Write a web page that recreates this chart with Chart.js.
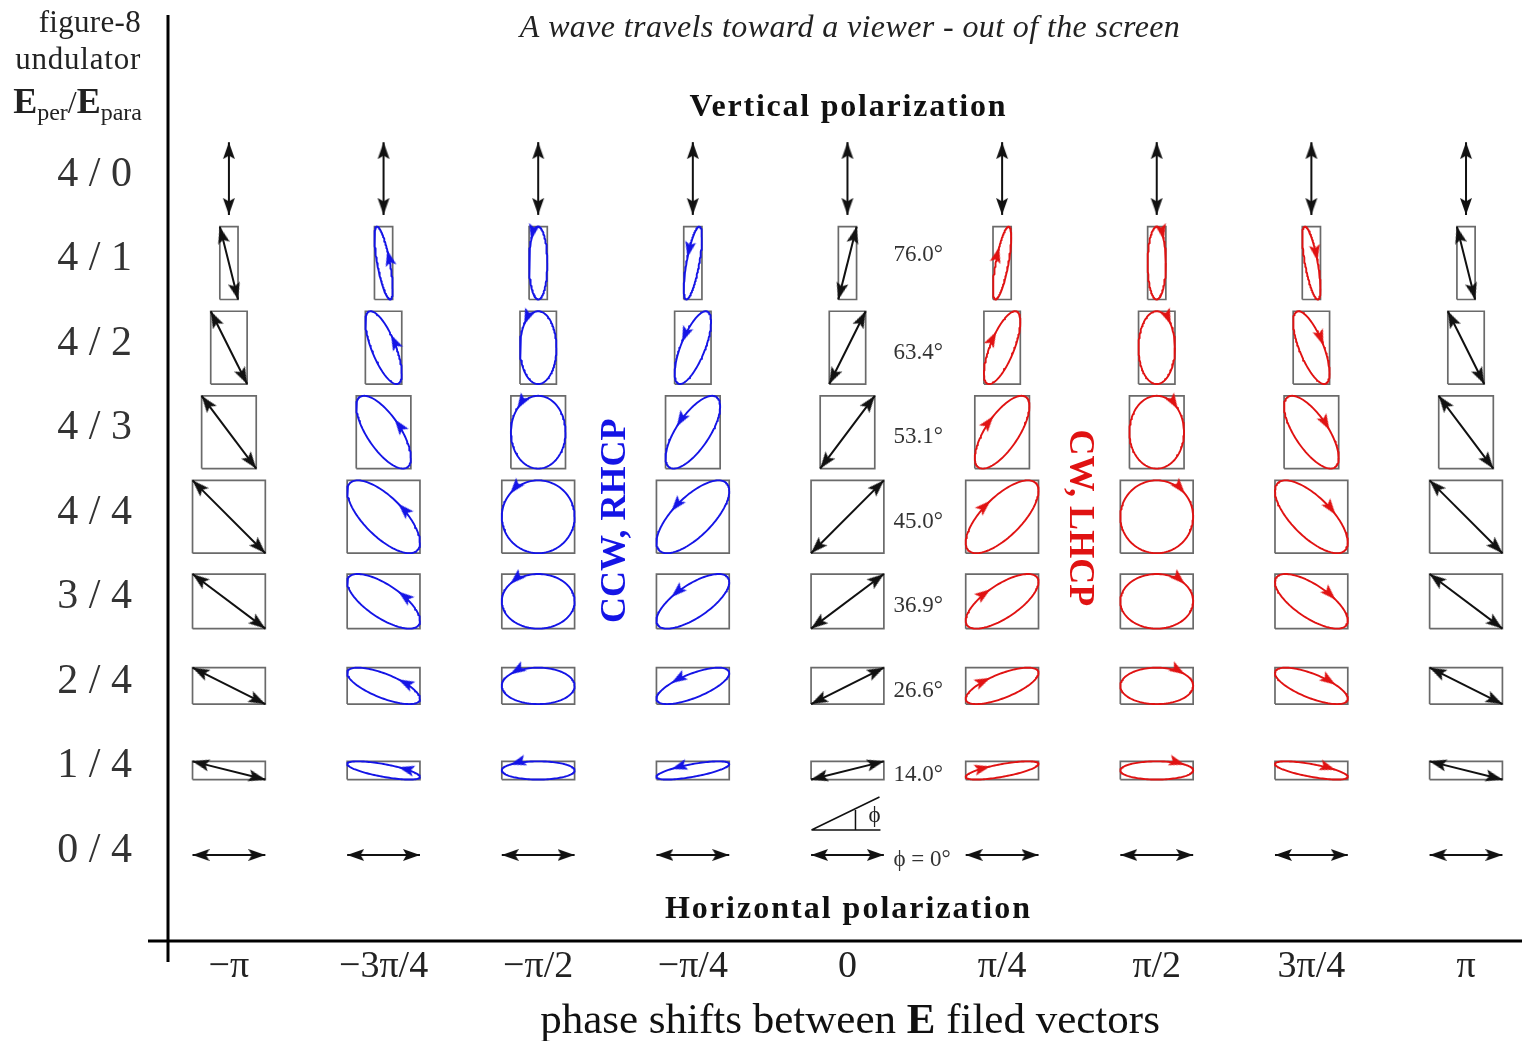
<!DOCTYPE html>
<html>
<head>
<meta charset="utf-8">
<title>Polarization states of a figure-8 undulator</title>
<script src="https://cdn.jsdelivr.net/npm/chart.js@4.4.1/dist/chart.umd.min.js"></script>
<style>
  html, body { margin: 0; padding: 0; background: #fff; }
  #wrap { width: 1522px; height: 1041px; }
</style>
</head>
<body>
<div id="wrap"><canvas id="myChart" width="1522" height="1041"></canvas></div>
<script>
// phase shift between the two E components, in steps of pi/4
const phaseSteps = [-4, -3, -2, -1, 0, 1, 2, 3, 4];
const phaseLabels = ["−π", "−3π/4", "−π/2", "−π/4", "0", "π/4", "π/2", "3π/4", "π"];

// amplitudes per row, top row first
const ePer = [4, 4, 4, 4, 4, 3, 2, 1, 0];
const ePara = [0, 1, 2, 3, 4, 4, 4, 4, 4];
const rowLabels = ["4 / 0", "4 / 1", "4 / 2", "4 / 3", "4 / 4", "3 / 4", "2 / 4", "1 / 4", "0 / 4"];
const angleLabels = ["", "76.0°", "63.4°", "53.1°", "45.0°", "36.9°", "26.6°", "14.0°", "ϕ = 0°"];

// where the single arrowhead sits on each ellipse (curve parameter t)
const arrowAt = [0, 1.15, 2.45, 2.2, 0, -1.9, -0.69, -0.85, 0];

const ctx = document.getElementById("myChart").getContext("2d");

const X_MIN = -4.394, X_MAX = 4.362;
const Y_MIN = -1.017, Y_MAX = 9.934;
const AREA_W = 1354, AREA_H = 926;
const AMP_PX = 9.1; // pixels per amplitude unit
const ax = (AMP_PX * (X_MAX - X_MIN)) / AREA_W;
const ay = (AMP_PX * (Y_MAX - Y_MIN)) / AREA_H;

const BLUE = "#1414e6";
const RED = "#e01212";
const BLACK = "#111111";
const BOX = "#6a6a6a";
const SERIF = "'Liberation Serif', 'Times New Roman', serif";

const colorFor = (s) => (s === 0 || Math.abs(s) === 4 ? BLACK : s < 0 ? BLUE : RED);

// arrowhead image, tip at the image centre, pointing up
const makeHead = (color, len, hw) => {
  const c = document.createElement("canvas");
  c.width = Math.ceil(hw) * 2 + 2;
  c.height = len * 2;
  const g = c.getContext("2d");
  const cx = c.width / 2;
  g.fillStyle = color;
  g.beginPath();
  g.moveTo(cx, len);
  g.lineTo(cx + hw, 2 * len);
  g.lineTo(cx, 2 * len - len * 0.2);
  g.lineTo(cx - hw, 2 * len);
  g.closePath();
  g.fill();
  return c;
};
const heads = {
  [BLACK]: makeHead(BLACK, 17, 6),
  [BLUE]: makeHead(BLUE, 16, 5.5),
  [RED]: makeHead(RED, 16, 5.5),
};
const deg = (vx, vy) => (Math.atan2(vx, vy) * 180) / Math.PI;

const boxes = [];
const curves = [];
const arrows = [];

ePer.forEach((B, r) => {
  const A = ePara[r];
  const yc = 8 - r;
  phaseSteps.forEach((s, c) => {
    const phi = (s * Math.PI) / 4;
    const linear = A === 0 || B === 0 || s % 4 === 0;
    const color = linear ? BLACK : colorFor(s);
    const pt = (px, py) => ({ x: s + px * ax, y: yc + py * ay });

    if (A > 0 && B > 0) {
      boxes.push({
        data: [pt(-A, -B), pt(A, -B), pt(A, B), pt(-A, B), pt(-A, -B)],
        borderColor: BOX,
        borderWidth: 1.7,
        showLine: true,
        pointRadius: 0,
        order: 3,
      });
    }

    if (linear) {
      const sg = Math.cos(phi) >= 0 ? 1 : -1;
      curves.push({
        data: [pt(-A, -B * sg), pt(A, B * sg)],
        borderColor: color,
        borderWidth: 2,
        showLine: true,
        pointRadius: 0,
        order: 2,
      });
      const rot = deg(A, B * sg);
      arrows.push({
        data: [pt(A, B * sg), pt(-A, -B * sg)],
        pointStyle: heads[color],
        rotation: [rot, rot + 180],
        pointRadius: 1,
        pointBorderWidth: 0,
        showLine: false,
        order: 1,
      });
    } else {
      const pts = [];
      for (let k = 0; k <= 120; k++) {
        const t = (k / 120) * 2 * Math.PI;
        pts.push(pt(A * Math.cos(t), B * Math.cos(t + phi)));
      }
      curves.push({
        data: pts,
        borderColor: color,
        borderWidth: 1.9,
        borderJoinStyle: "round",
        showLine: true,
        pointRadius: 0,
        order: 2,
      });
      const t0 = arrowAt[c];
      arrows.push({
        data: [pt(A * Math.cos(t0), B * Math.cos(t0 + phi))],
        pointStyle: heads[color],
        rotation: [deg(-A * Math.sin(t0), -B * Math.sin(t0 + phi))],
        pointRadius: 1,
        pointBorderWidth: 0,
        showLine: false,
        order: 1,
      });
    }
  });
});

const drawText = (g, str, x, y, font, color, align, targetW) => {
  g.font = font;
  g.fillStyle = color;
  g.textAlign = align || "left";
  g.textBaseline = "alphabetic";
  g.letterSpacing = "0px";
  if (targetW) {
    const w = g.measureText(str).width;
    g.letterSpacing = (targetW - w) / (str.length - 1) + "px";
  }
  g.fillText(str, x, y);
  g.letterSpacing = "0px";
};

// draws pieces [text, font, dy] one after another, right or centre aligned
const drawRun = (g, pieces, x, y, color, align) => {
  g.fillStyle = color;
  g.textAlign = "left";
  g.textBaseline = "alphabetic";
  let total = 0;
  pieces.forEach(([s, f]) => {
    g.font = f;
    total += g.measureText(s).width;
  });
  let cx = align === "right" ? x - total : x - total / 2;
  pieces.forEach(([s, f, dy]) => {
    g.font = f;
    g.fillText(s, cx, y + (dy || 0));
    cx += g.measureText(s).width;
  });
};

const decor = {
  id: "decor",
  afterDraw(chart) {
    const g = chart.ctx;
    const { chartArea: area, scales: { x, y } } = chart;
    const cx = x.getPixelForValue(0);
    g.save();

    // axis lines, crossing at the origin corner
    g.strokeStyle = "#000";
    g.lineWidth = 3;
    g.beginPath();
    g.moveTo(area.left, area.top);
    g.lineTo(area.left, area.bottom + 21);
    g.moveTo(area.left - 20, area.bottom);
    g.lineTo(area.right, area.bottom);
    g.stroke();

    // top-left block
    drawText(g, "figure-8", 141, 32, `31px ${SERIF}`, "#222", "right", 102);
    drawText(g, "undulator", 141, 69, `31px ${SERIF}`, "#222", "right", 125);
    drawRun(g, [
      ["E", `bold 36px ${SERIF}`],
      ["per", `24px ${SERIF}`, 7],
      ["/", `32px ${SERIF}`],
      ["E", `bold 36px ${SERIF}`],
      ["para", `24px ${SERIF}`, 7],
    ], 142, 113, "#222", "right");

    drawText(g, "A wave travels toward a viewer - out of the screen", 850, 37,
      `italic 32px ${SERIF}`, "#222", "center", 660);
    drawText(g, "Vertical polarization", cx + 1, 116, `bold 32px ${SERIF}`, "#111", "center", 316);
    drawText(g, "Horizontal polarization", cx + 1, 918, `bold 32px ${SERIF}`, "#111", "center", 365);

    drawRun(g, [
      ["phase shifts between ", `43px ${SERIF}`],
      ["E", `bold 43px ${SERIF}`],
      [" filed vectors", `43px ${SERIF}`],
    ], 850, 1033, "#111", "center");

    // angle of the linear polarization
    angleLabels.forEach((lab, r) => {
      if (!lab) return;
      const dy = r === 1 ? -2 : 11;
      drawText(g, lab, cx + 46, y.getPixelForValue(8 - r) + dy, `23px ${SERIF}`, "#333", "left");
    });

    // small angle sketch
    const y0 = y.getPixelForValue(0);
    g.strokeStyle = "#111";
    g.lineWidth = 1.5;
    g.beginPath();
    g.moveTo(cx - 36, y0 - 25);
    g.lineTo(cx + 33, y0 - 25);
    g.moveTo(cx - 36, y0 - 25);
    g.lineTo(cx + 32, y0 - 58);
    g.moveTo(cx + 8, y0 - 25);
    g.lineTo(cx + 8, y0 - 45);
    g.stroke();
    drawText(g, "ϕ", cx + 21, y0 - 33, `23px ${SERIF}`, "#222", "left");

    // handedness labels
    const rot = (str, px, py, ang, color) => {
      g.save();
      g.translate(px, py);
      g.rotate(ang);
      g.font = `bold 36px ${SERIF}`;
      g.fillStyle = color;
      g.textAlign = "center";
      g.textBaseline = "middle";
      g.fillText(str, 0, 0);
      g.restore();
    };
    rot("CCW, RHCP", x.getPixelForValue(-1.5), y.getPixelForValue(4) + 4, -Math.PI / 2, BLUE);
    rot("CW, LHCP", x.getPixelForValue(1.5), y.getPixelForValue(4) + 1, Math.PI / 2, RED);

    g.restore();
  },
};

const noPad = (scale) => {
  scale.paddingTop = 0;
  scale.paddingBottom = 0;
  scale.paddingLeft = 0;
  scale.paddingRight = 0;
};

new Chart(ctx, {
  type: "scatter",
  data: { datasets: [...arrows, ...curves, ...boxes] },
  options: {
    responsive: false,
    animation: false,
    devicePixelRatio: 1,
    events: [],
    layout: { autoPadding: false, padding: { top: 15, right: 0, bottom: 0, left: 0 } },
    plugins: { legend: { display: false }, tooltip: { enabled: false } },
    elements: { line: { tension: 0, fill: false } },
    scales: {
      x: {
        type: "linear",
        min: X_MIN,
        max: X_MAX,
        grid: { display: false, drawTicks: false },
        border: { display: false },
        afterBuildTicks: (scale) => {
          scale.ticks = phaseSteps.map((v) => ({ value: v }));
        },
        afterFit: (scale) => {
          scale.height = 100;
          noPad(scale);
        },
        ticks: {
          autoSkip: false,
          maxRotation: 0,
          minRotation: 0,
          padding: 3,
          color: "#222",
          font: { family: SERIF, size: 38 },
          callback: (v) => phaseLabels[phaseSteps.indexOf(v)],
        },
      },
      y: {
        type: "linear",
        min: Y_MIN,
        max: Y_MAX,
        grid: { display: false, drawTicks: false },
        border: { display: false },
        afterBuildTicks: (scale) => {
          scale.ticks = rowLabels.map((_, r) => ({ value: 8 - r }));
        },
        afterFit: (scale) => {
          scale.width = 168;
          noPad(scale);
        },
        ticks: {
          autoSkip: false,
          padding: 36,
          labelOffset: -4,
          color: "#333",
          font: { family: SERIF, size: 42 },
          callback: (v) => rowLabels[8 - v],
        },
      },
    },
  },
  plugins: [decor],
});
</script>
</body>
</html>
